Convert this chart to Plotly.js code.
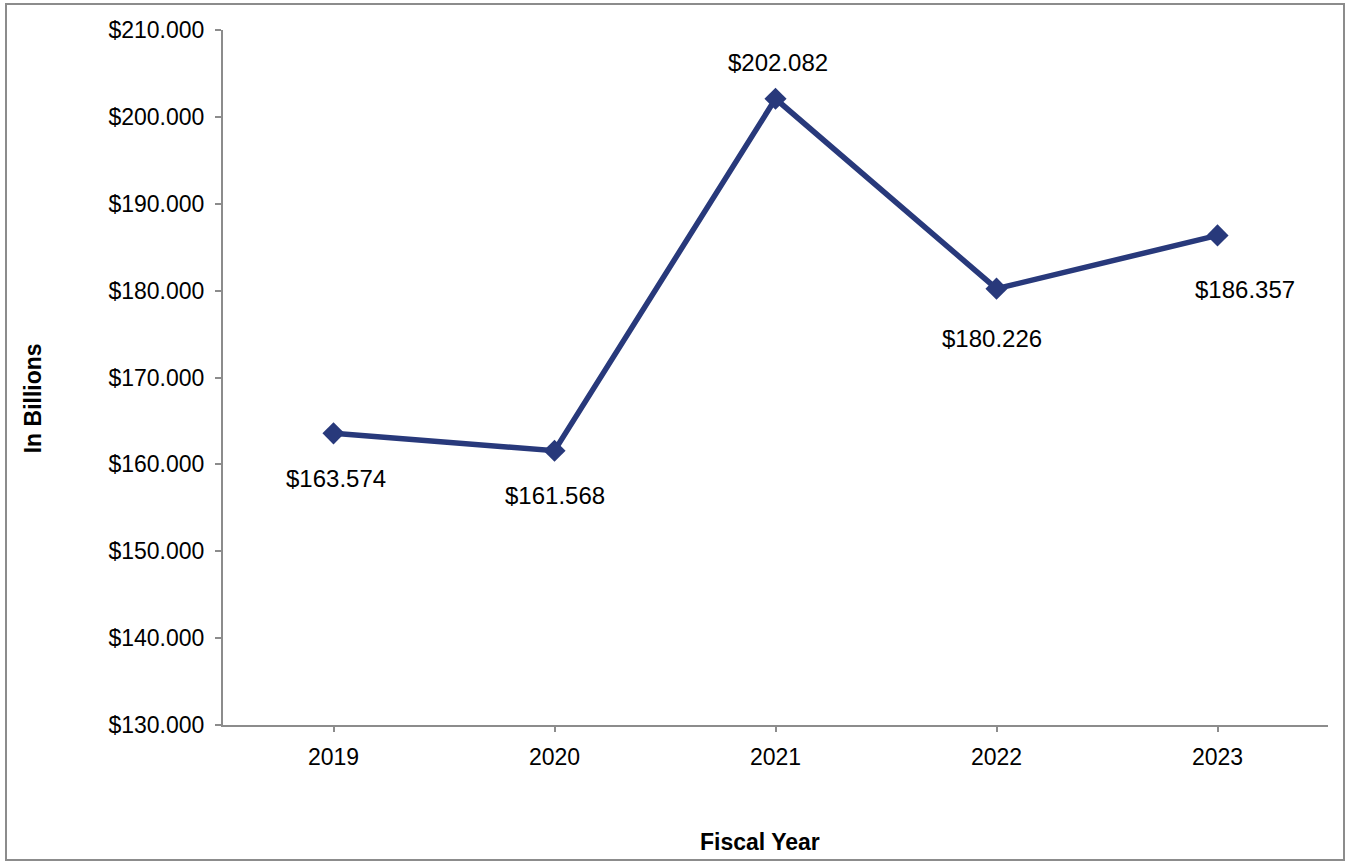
<!DOCTYPE html>
<html>
<head>
<meta charset="utf-8">
<script src="https://cdn.plot.ly/plotly-3.0.1.min.js"></script>
<style>
  html, body { margin: 0; padding: 0; background: #fff; }
  #frame { position: absolute; left: 5px; top: 3px; width: 1340px; height: 858px; border: 2px solid #8c8c8c; box-sizing: border-box; }
  #chart { position: absolute; left: 0; top: 0; width: 1349px; height: 865px; }
</style>
</head>
<body>
<div id="frame"></div>
<div id="chart"></div>
<script>
const years = ['2019', '2020', '2021', '2022', '2023'];
const values = [163.574, 161.568, 202.082, 180.226, 186.357];
const valueLabels = ['$163.574', '$161.568', '$202.082', '$180.226', '$186.357'];
const yTickVals = [130, 140, 150, 160, 170, 180, 190, 200, 210];
const yTickText = ['$130.000', '$140.000', '$150.000', '$160.000', '$170.000', '$180.000', '$190.000', '$200.000', '$210.000'];

const labelShiftY = [-45, -45, 36, -50, -54];
const labelShiftX = [2, 0, 2, -5, 27];

const font = 'Liberation Sans, Arial, sans-serif';
const navy = '#28397B';

const annotations = years.map((y, i) => ({
  x: i, y: values[i], xref: 'x', yref: 'y',
  text: valueLabels[i], showarrow: false,
  xanchor: 'center', yanchor: 'middle',
  xshift: labelShiftX[i], yshift: labelShiftY[i],
  font: { family: font, size: 24, color: '#000' }
}));
annotations.push({
  text: '<b>Fiscal Year</b>', xref: 'paper', yref: 'paper', x: 0.486, y: -0.168,
  xanchor: 'center', yanchor: 'middle', showarrow: false,
  font: { family: font, size: 23, color: '#000' }
});
annotations.push({
  text: '<b>In Billions</b>', xref: 'paper', yref: 'paper', x: -0.172, y: 0.47,
  xanchor: 'center', yanchor: 'middle', showarrow: false, textangle: -90,
  font: { family: font, size: 23, color: '#000' }
});

const trace = {
  x: years, y: values, type: 'scatter', mode: 'lines+markers',
  line: { color: navy, width: 5.5 },
  marker: { symbol: 'diamond', size: 17, color: navy },
  hoverinfo: 'x+y'
};

const layout = {
  width: 1349, height: 865,
  paper_bgcolor: 'rgba(0,0,0,0)', plot_bgcolor: 'rgba(0,0,0,0)',
  margin: { l: 223, r: 21, t: 30, b: 140, pad: 0 },
  showlegend: false,
  font: { family: font, color: '#000' },
  xaxis: {
    type: 'category', range: [-0.5, 4.5],
    showline: true, linecolor: '#8c8c8c', linewidth: 2,
    showgrid: false, zeroline: false,
    ticks: 'outside', ticklen: 5, tickwidth: 2, tickcolor: '#8c8c8c',
    tickfont: { family: font, size: 23, color: '#000' },
    ticklabelstandoff: 5
  },
  yaxis: {
    range: [130, 210], tickvals: yTickVals, ticktext: yTickText,
    showline: true, linecolor: '#8c8c8c', linewidth: 2,
    showgrid: false, zeroline: false,
    ticks: 'outside', ticklen: 6, tickwidth: 2, tickcolor: '#8c8c8c',
    tickfont: { family: font, size: 23, color: '#000' },
    ticklabelstandoff: 6
  },
  annotations: annotations
};

Plotly.newPlot('chart', [trace], layout, { displayModeBar: false, staticPlot: true });
</script>
</body>
</html>
